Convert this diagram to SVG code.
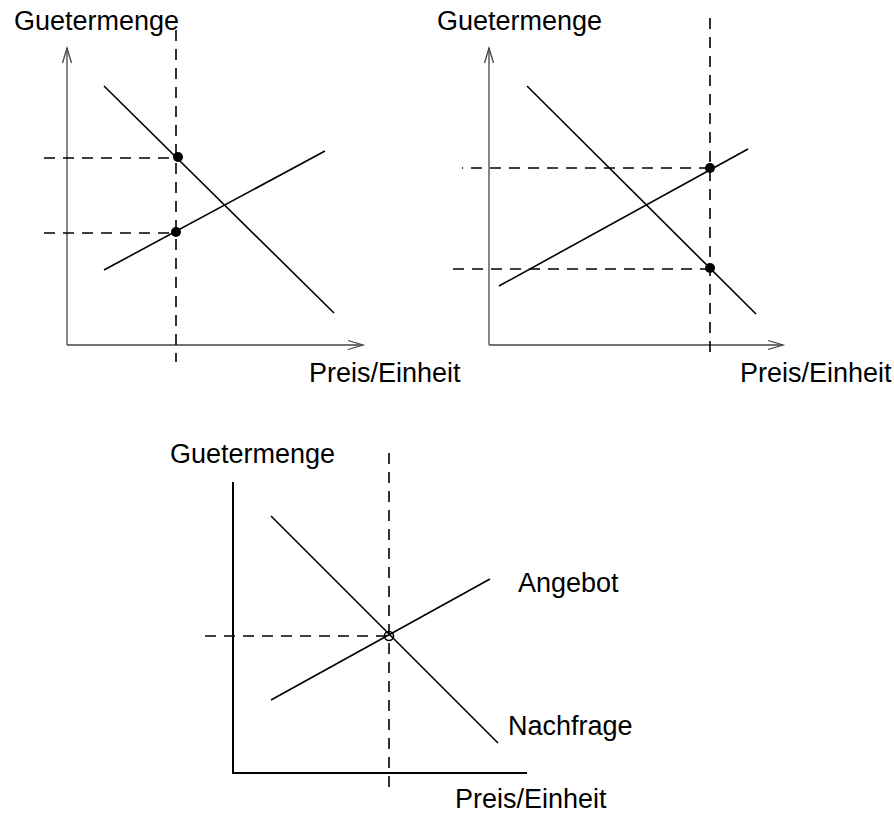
<svg xmlns="http://www.w3.org/2000/svg" width="894" height="814" viewBox="0 0 894 814">
  <style>
    .label { font-family: "Liberation Sans", Arial, sans-serif; font-size: 27px; fill: #000; }
    .axis { stroke: #444; stroke-width: 1.3; fill: none; }
    .axis-bold { stroke: #000; stroke-width: 2; fill: none; }
    .curve { stroke: #000; stroke-width: 1.6; fill: none; }
    .guide { stroke: #000; stroke-width: 1.6; fill: none; stroke-dasharray: 11 8; }
    .pt { fill: #000; }
    .pt-open { fill: none; stroke: #000; stroke-width: 1.6; }
  </style>
  <defs>
    <marker id="vee" markerUnits="userSpaceOnUse" markerWidth="20" markerHeight="12" viewBox="-16 -6 18 12" refX="0" refY="0" orient="auto">
      <path d="M-15,-4.5 L0,0 L-15,4.5" fill="none" stroke="#444" stroke-width="1.3"/>
    </marker>
  </defs>
  <rect width="894" height="814" fill="#fff"/>

  <!-- Panel 1: price fixed, demand above supply -->
  <g id="panel-left">
    <g id="axes-left">
      <line class="axis" x1="67" y1="345" x2="67" y2="48" marker-end="url(#vee)"/>
      <line class="axis" x1="67" y1="345" x2="363" y2="345" marker-end="url(#vee)"/>
      <text class="label" x="14" y="30">Guetermenge</text>
      <text class="label" x="309" y="382">Preis/Einheit</text>
    </g>
    <g id="connectors-left">
      <line class="guide" x1="176" y1="30" x2="176" y2="362"/>
      <line class="guide" x1="44" y1="158" x2="178" y2="158"/>
      <line class="guide" x1="44" y1="233" x2="176" y2="233"/>
    </g>
    <g id="demand-left"><line class="curve" x1="104" y1="86" x2="334" y2="313"/></g>
    <g id="supply-left"><line class="curve" x1="104" y1="270" x2="325" y2="151"/></g>
    <g id="points-left">
      <circle class="pt" cx="178" cy="157" r="5"/>
      <circle class="pt" cx="176" cy="232" r="5"/>
    </g>
  </g>

  <!-- Panel 2: price fixed, supply above demand -->
  <g id="panel-right">
    <g id="axes-right">
      <line class="axis" x1="489" y1="345" x2="489" y2="48" marker-end="url(#vee)"/>
      <line class="axis" x1="489" y1="345" x2="783" y2="345" marker-end="url(#vee)"/>
      <text class="label" x="437" y="30">Guetermenge</text>
      <text class="label" x="740" y="382">Preis/Einheit</text>
    </g>
    <g id="connectors-right">
      <line class="guide" x1="710" y1="18" x2="710" y2="360"/>
      <line class="guide" x1="462" y1="168" x2="710" y2="168" stroke-dashoffset="10"/>
      <line class="guide" x1="453" y1="269" x2="710" y2="269"/>
    </g>
    <g id="demand-right"><line class="curve" x1="527" y1="86" x2="756" y2="314"/></g>
    <g id="supply-right"><line class="curve" x1="499" y1="286" x2="748" y2="149"/></g>
    <g id="points-right">
      <circle class="pt" cx="710" cy="168" r="5"/>
      <circle class="pt" cx="710" cy="268" r="5"/>
    </g>
  </g>

  <!-- Panel 3: equilibrium -->
  <g id="panel-bottom">
    <g id="axes-bottom">
      <polyline class="axis-bold" points="233,482 233,773 527,773"/>
      <text class="label" x="170" y="463">Guetermenge</text>
      <text class="label" x="455" y="808">Preis/Einheit</text>
    </g>
    <g id="connectors-bottom">
      <line class="guide" x1="389" y1="453" x2="389" y2="790"/>
      <line class="guide" x1="205" y1="636" x2="389" y2="636"/>
    </g>
    <g id="demand-bottom">
      <line class="curve" x1="271" y1="516" x2="498" y2="743"/>
      <text class="label" x="508" y="735">Nachfrage</text>
    </g>
    <g id="supply-bottom">
      <line class="curve" x1="271" y1="700" x2="490" y2="579"/>
      <text class="label" x="518" y="592">Angebot</text>
    </g>
    <g id="equilibrium">
      <circle class="pt-open" cx="389" cy="636" r="4.5"/>
    </g>
  </g>
</svg>
